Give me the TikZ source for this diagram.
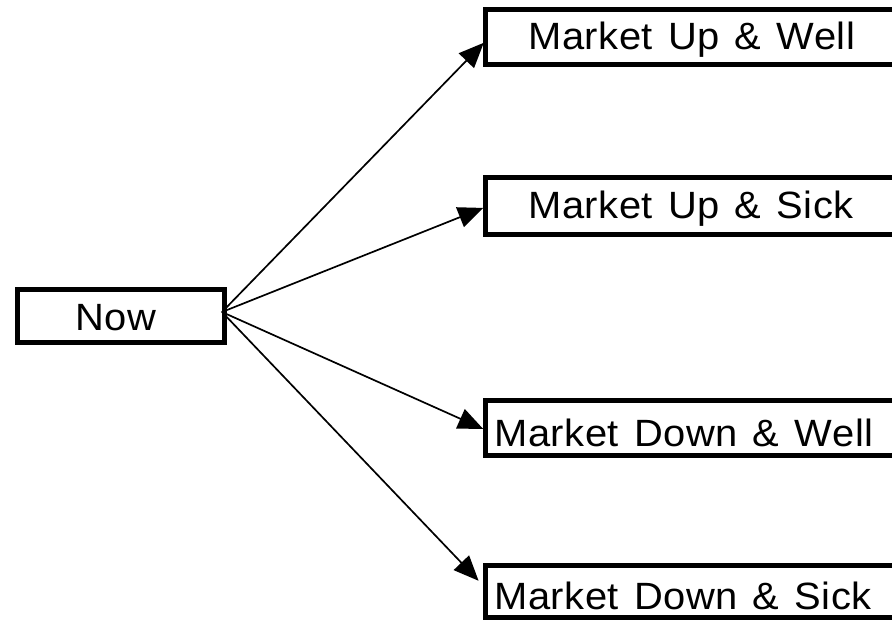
\documentclass[tikz,border=0pt]{standalone}
\usepackage{fontspec}
\newfontfamily\boxfont[FakeStretch=1.05, LetterSpace=1.5, WordSpace=1.3]{Liberation Sans}
\usetikzlibrary{arrows.meta}
\begin{document}
\begin{tikzpicture}[x=1pt,y=-1pt,
  state/.style={draw, line width=5pt, rectangle, inner sep=0pt, outer sep=0pt},
  caption/.style={font=\boxfont\fontsize{38}{44}\selectfont, inner sep=0pt, anchor=base west},
  branch/.style={line width=1.7pt, shorten >=2.5pt, -{Triangle[length=25pt,width=21pt]}}]
\useasboundingbox (0,0) rectangle (892,622);
\clip (0,0) rectangle (892,622);

% starting state
\node[state, minimum width=206.5pt, minimum height=53pt] (now) at (120.75,316) {};
\node[caption] (nowtxt) at (75,330) {Now};

% outcome states (they run on past the right margin)
\node[state, anchor=west, minimum width=480pt, minimum height=55pt] (uw) at (485.5,37) {};
\node[caption] (uwtxt) at (528,49) {Market Up \& Well};

\node[state, anchor=west, minimum width=480pt, minimum height=57pt] (us) at (485.5,206) {};
\node[caption] (ustxt) at (528,218) {Market Up \& Sick};

\node[state, anchor=west, minimum width=480pt, minimum height=55pt] (dw) at (485.5,428) {};
\node[caption] (dwtxt) at (494,446) {Market Down \& Well};

\node[state, anchor=west, minimum width=480pt, minimum height=52pt] (ds) at (485.5,591.5) {};
\node[caption] (dstxt) at (494,609) {Market Down \& Sick};

% branches
\coordinate (hub) at (222,312);
\draw[branch] (hub) -- ([yshift=-4pt]uw.west);
\draw[branch] (hub) -- ([yshift=-1pt]us.west);
\draw[branch] (hub) -- ([yshift=-2pt]dw.west);
\draw[branch, shorten >=10pt] (hub) -- ([yshift=3.5pt]ds.west);
\end{tikzpicture}
\end{document}
